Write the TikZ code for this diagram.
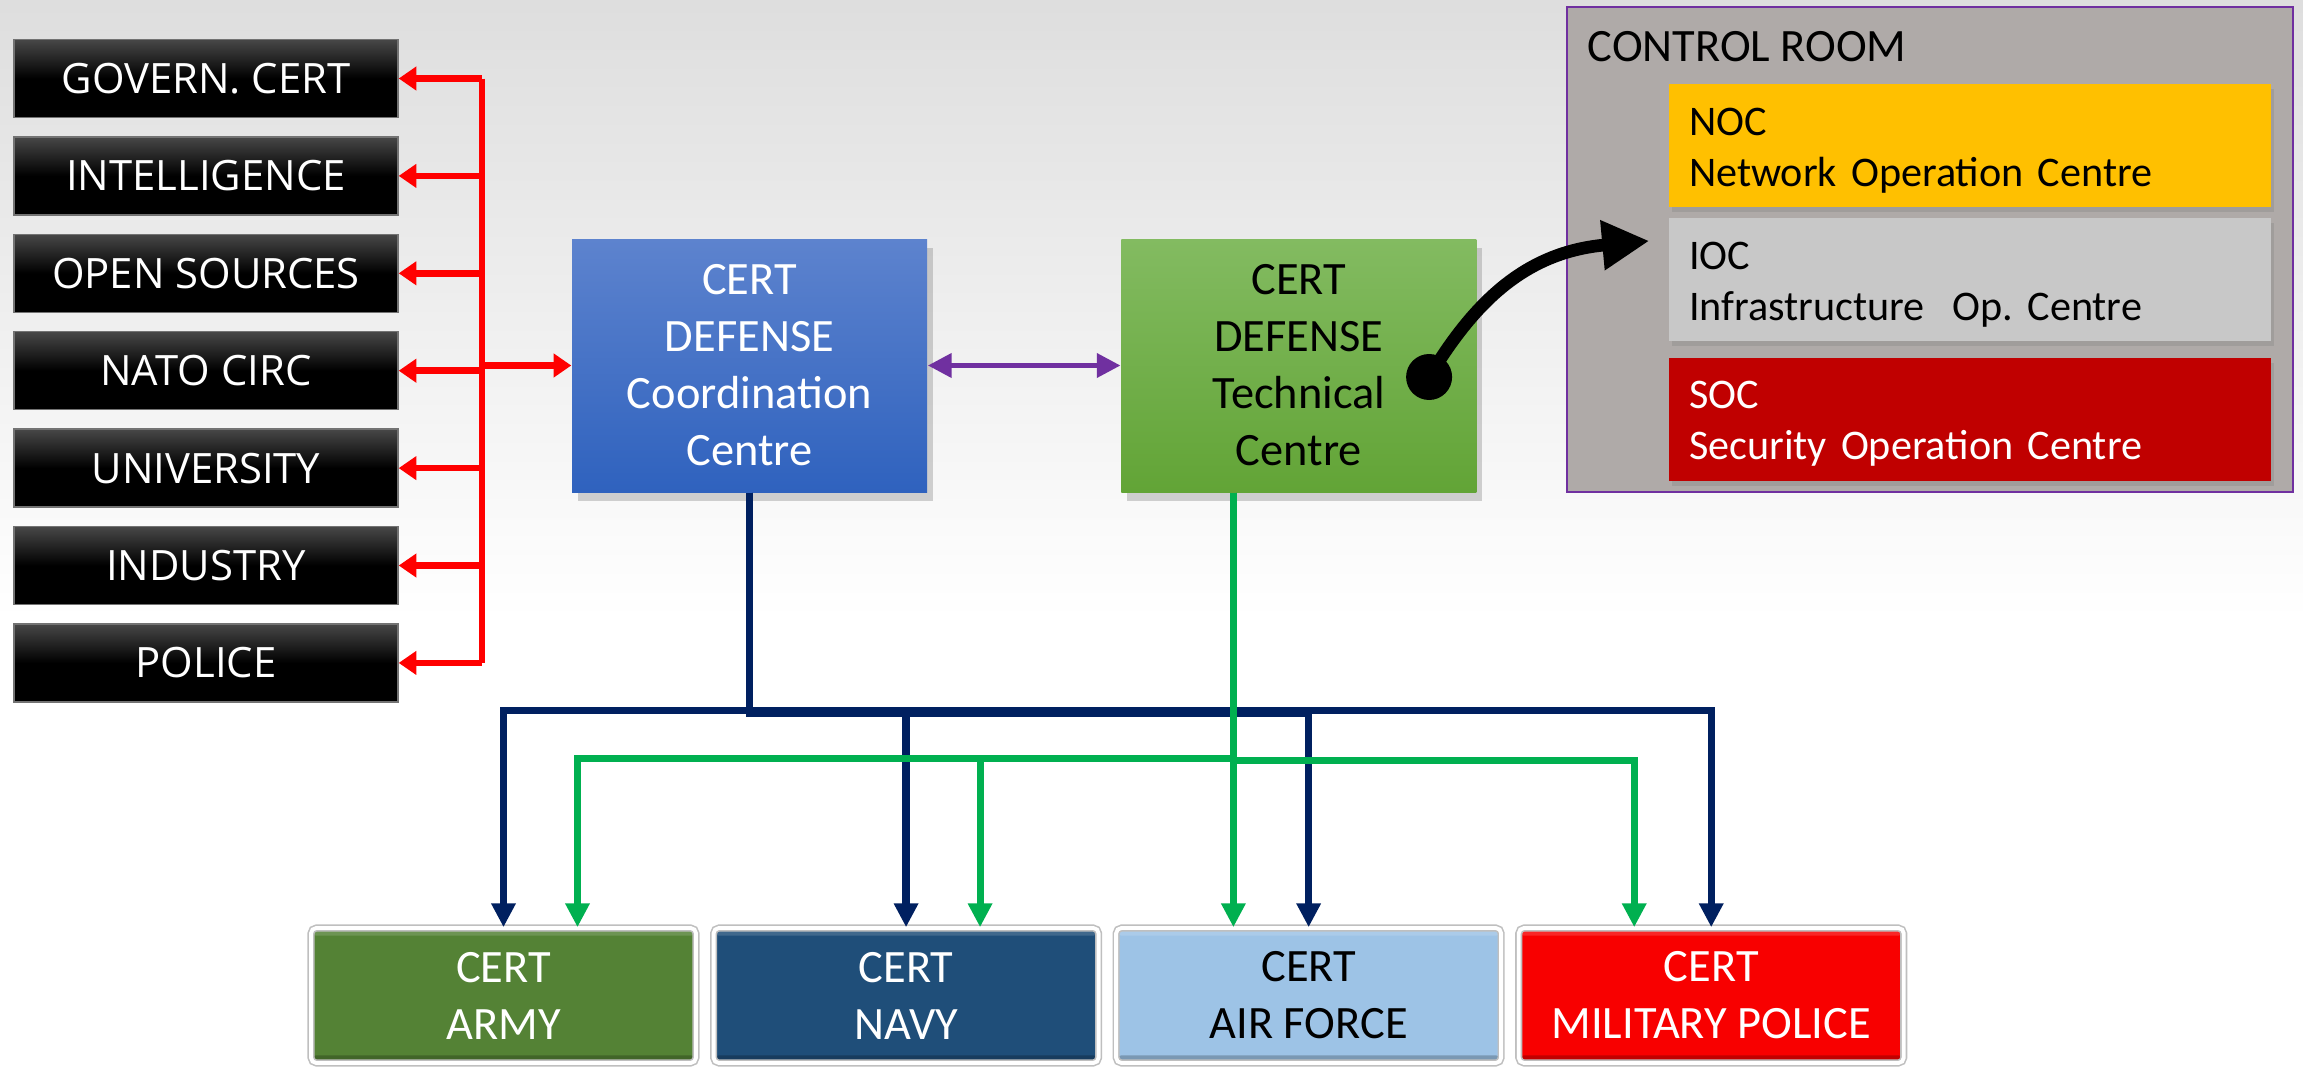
\documentclass[tikz,border=0pt]{standalone}
\usepackage{fontspec}
\setmainfont{Carlito}
\newfontfamily\srcfont{Open Sans}
\usepackage{xcolor}
\usepackage{tikz}
\usetikzlibrary{arrows.meta, positioning, shadows}
\definecolor{navyline}{HTML}{002060}
\definecolor{greenline}{HTML}{00B050}
\definecolor{redline}{HTML}{FF0000}
\definecolor{purpleline}{HTML}{7030A0}
\definecolor{coordtop}{RGB}{93,131,206}
\definecolor{coordbot}{RGB}{47,98,190}
\definecolor{techtop}{RGB}{131,187,97}
\definecolor{techbot}{RGB}{98,164,54}
\definecolor{roomgray}{RGB}{175,170,168}
\definecolor{nocfill}{HTML}{FFC000}
\definecolor{iocfill}{RGB}{200,200,200}
\definecolor{socfill}{HTML}{C00000}
\definecolor{armyfill}{RGB}{84,130,53}
\definecolor{navyfill}{RGB}{31,78,121}
\definecolor{airfill}{RGB}{157,195,230}
\definecolor{milfill}{RGB}{248,0,0}
\newcommand*\boxfont{\fontsize{13.2pt}{16.2pt}\selectfont}
\newcommand*\cellfont{\fontsize{12pt}{14.5pt}\selectfont}
\newcommand*\srcsize{\srcfont\fontsize{11.9pt}{13pt}\selectfont}
\tikzstyle{srcbox} = [rectangle, draw=black!55, line width=0.4pt, top color=black!72, bottom color=black, middle color=black, minimum width=38.4mm, minimum height=7.8mm, text=white, font=\srcsize]
\tikzstyle{centrebox} = [rectangle, minimum width=35.5mm, minimum height=25.3mm, align=center, font=\boxfont, drop shadow={shadow xshift=0.6mm, shadow yshift=-0.9mm, opacity=0.35}]
\tikzstyle{roombox} = [rectangle, draw=purpleline, line width=0.5pt, fill=roomgray, minimum width=72.6mm, minimum height=48.5mm]
\tikzstyle{cellbox} = [rectangle, text width=56.2mm, inner xsep=2mm, minimum height=12.3mm, text height=10.5pt, align=left, font=\cellfont, drop shadow={shadow xshift=0.3mm, shadow yshift=-0.5mm, opacity=0.3}]
\tikzstyle{unitbox} = [rectangle, minimum width=38.5mm, minimum height=13.5mm, align=center, font=\boxfont, draw=black!25, double=white, double distance=1.1pt, line width=0.45pt, rounded corners=1.5pt,
  path picture={\fill[black, opacity=0.22] (path picture bounding box.south west) rectangle ([yshift=2.2pt]path picture bounding box.south east);
                \fill[white, opacity=0.15] (path picture bounding box.north west) rectangle ([yshift=-2.2pt]path picture bounding box.north east);}]
\tikzstyle{red-line} = [draw=redline, line width=1.85pt]
\tikzstyle{red-arrow} = [draw=redline, line width=1.85pt, -{Triangle[length=5pt,width=6.5pt]}]
\tikzstyle{purple-arrow} = [draw=purpleline, line width=1.7pt, {Triangle[length=6.8pt,width=6.6pt]}-{Triangle[length=6.8pt,width=6.6pt]}]
\tikzstyle{navy-arrow} = [draw=navyline, line width=2.1pt, -{Triangle[length=6.8pt,width=6.6pt]}]
\tikzstyle{green-arrow} = [draw=greenline, line width=2pt, -{Triangle[length=6.8pt,width=6.6pt]}]
\tikzstyle{black-arrow} = [draw=black, line width=3.6pt, -{Triangle[length=13.4pt,width=13.4pt]}]

\begin{document}
\begin{tikzpicture}[x=0.1mm, y=-0.1mm, node distance=1.8mm]

  % Background
  \useasboundingbox (0,0) rectangle (2303,1067);
  \fill[white] (0,0) rectangle (2303,1067);
  \fill[top color=black!13, bottom color=white] (0,0) rectangle (2303,620);

  % Sources
  \node (gov) [srcbox] at (206,78.5) {GOVERN. CERT};
  \node (intel) [srcbox, below=of gov] {INTELLIGENCE};
  \node (opensrc) [srcbox, below=of intel] {OPEN SOURCES};
  \node (nato) [srcbox, below=of opensrc] {NATO CIRC};
  \node (univ) [srcbox, below=of nato] {UNIVERSITY};
  \node (industry) [srcbox, below=of univ] {INDUSTRY};
  \node (police) [srcbox, below=of industry] {POLICE};

  % Centres
  \node (coord) [centrebox, top color=coordtop, bottom color=coordbot, text=white] at (749.5,365.5) {CERT\\DEFENSE\\Coordination\\Centre};
  \node (tech) [centrebox, top color=techtop, bottom color=techbot, right=19.3mm of coord] {CERT\\DEFENSE\\Technical\\Centre};

  % Control room
  \node (room) [roombox] at (1930,249.5) {};
  \node (roomlabel) [anchor=base west, font=\boxfont, inner sep=0pt] at (1587,61) {CONTROL ROOM};
  \node (noc) [cellbox, fill=nocfill] at (1970,145.5) {NOC\\Network Operation Centre};
  \node (ioc) [cellbox, fill=iocfill, below=1mm of noc] {IOC\\Infrastructure\ \ Op.\ Centre};
  \node (soc) [cellbox, fill=socfill, text=white, below=1.5mm of ioc] {SOC\\Security Operation Centre};

  % Armed forces
  \node (army) [unitbox, fill=armyfill, text=white] at (503.5,995.5) {CERT\\ARMY};
  \node (navy) [unitbox, fill=navyfill, text=white, right=1.6mm of army] {CERT\\NAVY};
  \node (airforce) [unitbox, fill=airfill, right=1.6mm of navy] {CERT\\AIR FORCE};
  \node (milpol) [unitbox, fill=milfill, text=white, right=1.6mm of airforce] {CERT\\MILITARY POLICE};

  % Helper points
  \coordinate (bus) at (482,365.5);
  \coordinate (gtop) at ([xshift=-6.55mm]tech.south);
  \coordinate (ioctip) at ([xshift=-1.9mm,yshift=3.9mm]ioc.west);
  \node (dot) [circle, fill=black, minimum size=4.6mm, inner sep=0pt] at ([xshift=-4.8mm,yshift=-1.15mm]tech.east) {};

  % Red links
  \draw[red-line] (bus |- gov) -- (bus |- police);
  \draw[red-arrow] (bus |- gov) -- (gov.east);
  \draw[red-arrow] (bus |- intel) -- (intel.east);
  \draw[red-arrow] (bus |- opensrc) -- (opensrc.east);
  \draw[red-arrow] (bus |- nato) -- (nato.east);
  \draw[red-arrow] (bus |- univ) -- (univ.east);
  \draw[red-arrow] (bus |- industry) -- (industry.east);
  \draw[red-arrow] (bus |- police) -- (police.east);
  \draw[red-arrow] (bus) -- (coord.west);

  \draw[purple-arrow] (coord.east) -- (tech.west);

  % Coordination links
  \draw[navy-arrow] (coord.south) -- ++(0,218) -| (army.north);
  \draw[navy-arrow] (coord.south) -- ++(0,218) -| (milpol.north);
  \draw[navy-arrow] (coord.south) -- ++(0,221) -| (navy.north);
  \draw[navy-arrow] (coord.south) -- ++(0,221) -| (airforce.north);

  % Technical links
  \draw[green-arrow] (gtop) -- ++(0,266) -| ([xshift=7.4mm]army.north);
  \draw[green-arrow] (gtop) -- ++(0,266) -| ([xshift=7.4mm]navy.north);
  \draw[green-arrow] (gtop) -- ++(0,268) -| ([xshift=-7.7mm]milpol.north);
  \draw[green-arrow] (gtop) -- (gtop |- airforce.north);

  \draw[black-arrow] (dot.center) .. controls +(48,-80) and +(-120,11) .. (ioctip);

\end{tikzpicture}
\end{document}
